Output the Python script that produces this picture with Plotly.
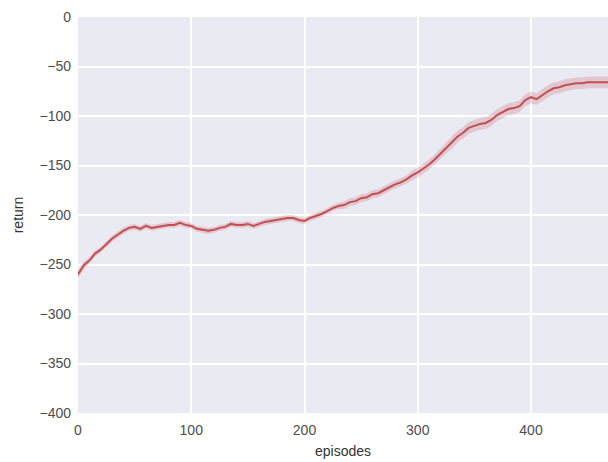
import plotly.graph_objects as go

episodes = [0, 5, 10, 15, 20, 25, 30, 35, 40, 45, 50, 55, 60, 65, 70, 75, 80, 85, 90, 95,
            100, 105, 110, 115, 120, 125, 130, 135, 140, 145, 150, 155, 160, 165, 170, 175, 180, 185, 190, 195,
            200, 205, 210, 215, 220, 225, 230, 235, 240, 245, 250, 255, 260, 265, 270, 275, 280, 285, 290, 295,
            300, 305, 310, 315, 320, 325, 330, 335, 340, 345, 350, 355, 360, 365, 370, 375, 380, 385, 390, 395,
            400, 405, 410, 415, 420, 425, 430, 435, 440, 445, 450, 455, 460, 465, 468]
mean_return = [-260, -251, -246, -239, -235, -230, -224, -220, -216, -213, -212, -214, -211, -213, -212, -211, -210, -210, -208, -210,
               -211, -214, -215, -216, -215, -213, -212, -209, -210, -210, -209, -211, -209, -207, -206, -205, -204, -203, -203, -205,
               -206, -203, -201, -199, -196, -193, -191, -190, -187, -186, -183, -182, -179, -178, -175, -172, -169, -167, -164, -160,
               -157, -153, -149, -144, -138, -133, -127, -121, -117, -112, -110, -108, -107, -104, -99, -96, -93, -92, -90, -84,
               -81, -83, -79, -75, -72, -71, -69, -68, -67, -67, -66, -66, -66, -66, -66]
spread = [4, 4, 3, 3, 3, 3, 3, 3, 3, 3, 3, 3, 3, 3, 3, 3, 3, 3, 3, 3,
          3, 3, 3, 3, 3, 3, 3, 3, 3, 3, 3, 3, 3, 3, 3, 3, 3, 3, 3, 3,
          3, 3, 3, 3, 3, 3, 3, 4, 4, 4, 4, 4, 4, 4, 4, 4, 4, 4, 4, 5,
          5, 5, 5, 5, 5, 5, 6, 6, 6, 6, 6, 6, 6, 6, 6, 6, 6, 6, 6, 6,
          6, 6, 6, 6, 6, 6, 6, 6, 6, 6, 6, 6, 6, 6, 6]

upper = [m + s for m, s in zip(mean_return, spread)]
lower = [m - s for m, s in zip(mean_return, spread)]

red = "#C44E52"

fig = go.Figure()
fig.add_trace(go.Scatter(x=episodes, y=upper, mode="lines", line=dict(width=0),
                         hoverinfo="skip", showlegend=False))
fig.add_trace(go.Scatter(x=episodes, y=lower, mode="lines", line=dict(width=0),
                         fill="tonexty", fillcolor="rgba(196,78,82,0.22)",
                         hoverinfo="skip", showlegend=False))
fig.add_trace(go.Scatter(x=episodes, y=mean_return, mode="lines",
                         line=dict(color=red, width=2), showlegend=False))

fig.update_layout(
    width=608, height=462,
    margin=dict(l=78, r=0, t=17, b=49),
    paper_bgcolor="white",
    plot_bgcolor="#EAEAF2",
    font=dict(family="Liberation Sans, Arial, sans-serif", size=14, color="#4d4d4d"),
    showlegend=False,
)
fig.update_xaxes(range=[0, 468], tickvals=[0, 100, 200, 300, 400],
                 showgrid=True, gridcolor="white", gridwidth=1.5, zeroline=False,
                 showline=False, ticks="", ticklen=0, ticklabelstandoff=7,
                 title=dict(text="episodes", font=dict(size=14, color="#333"), standoff=9))
fig.update_yaxes(range=[-400, 0], tickvals=[0, -50, -100, -150, -200, -250, -300, -350, -400],
                 ticktext=["0", "−50", "−100", "−150", "−200", "−250", "−300", "−350", "−400"],
                 showgrid=True, gridcolor="white", gridwidth=1.5, zeroline=False,
                 showline=False, ticks="", ticklen=0, ticklabelstandoff=6,
                 title=dict(text="return", font=dict(size=14, color="#333"), standoff=12))

fig.write_html("out.html")
